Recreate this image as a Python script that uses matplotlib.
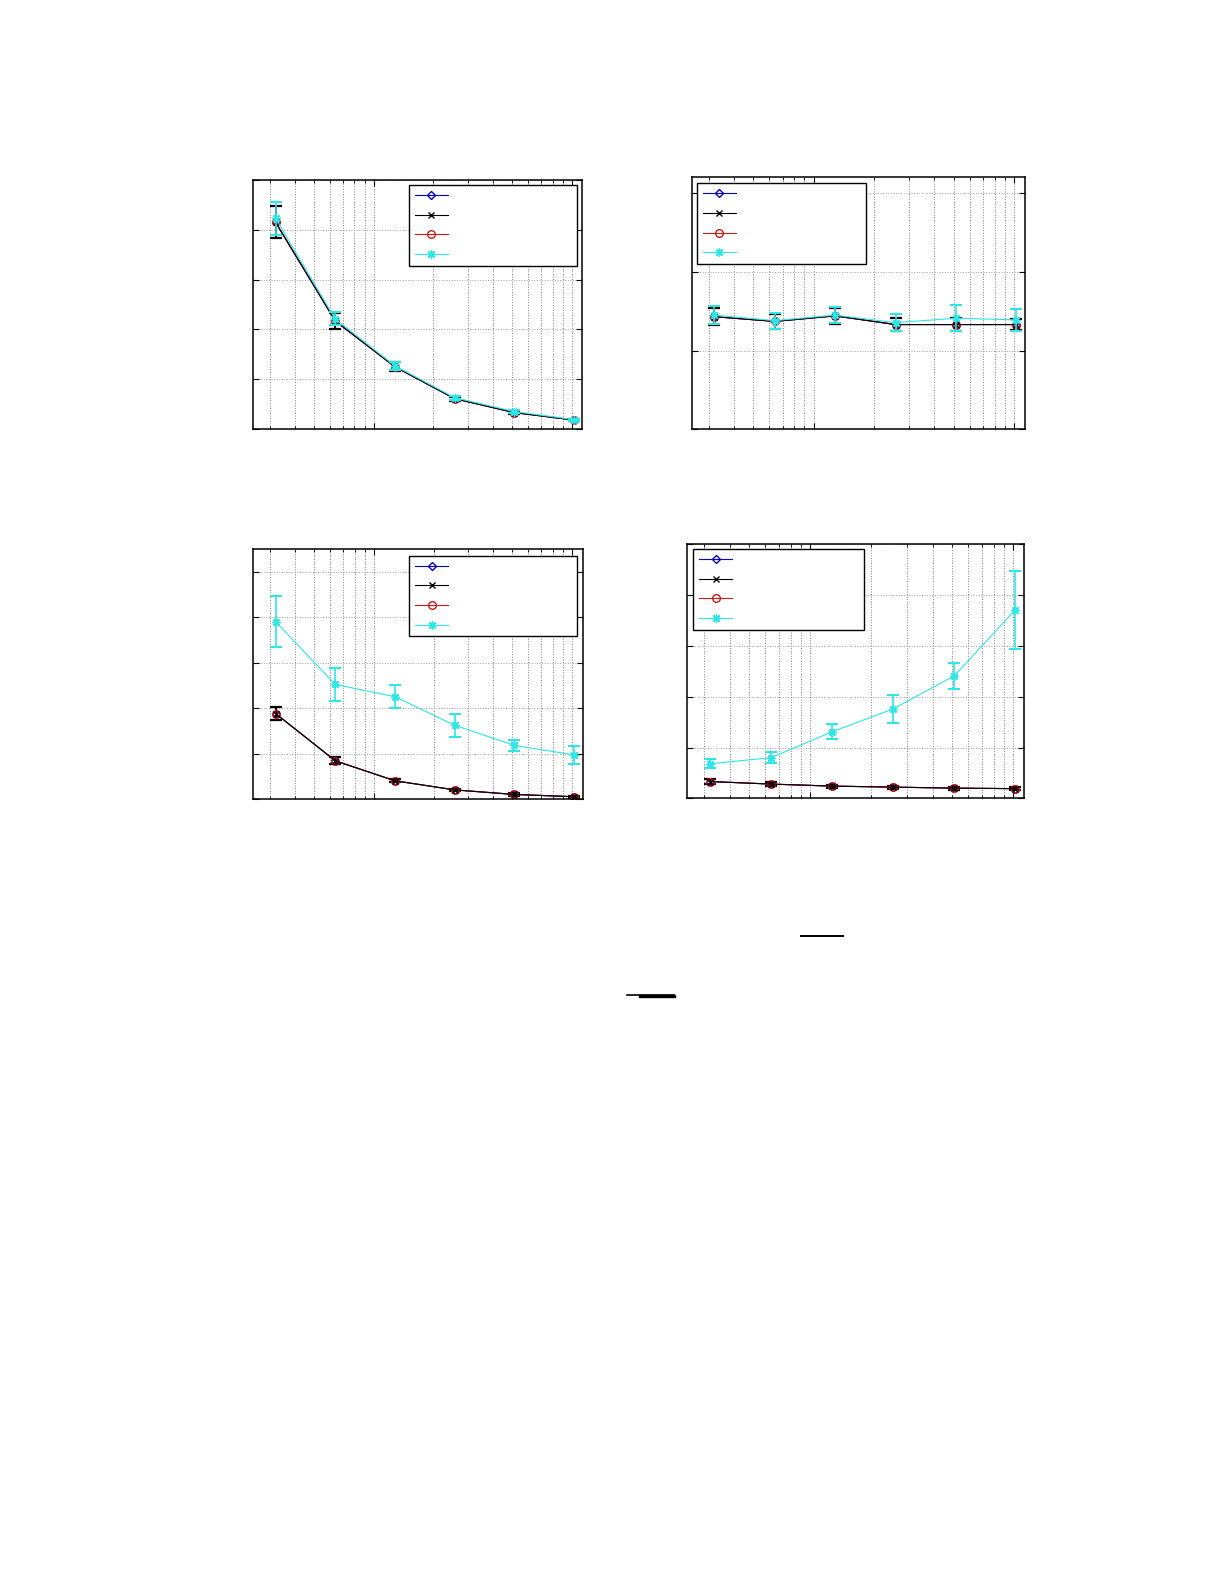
import matplotlib
matplotlib.use("Agg")
import matplotlib.pyplot as plt
from matplotlib.lines import Line2D
from matplotlib.ticker import NullFormatter, LogLocator, MultipleLocator

# x positions (log axis), same for all panels
x_vals = [32, 64, 128, 256, 512, 1024]

# top left
tl_k = [4.15, 2.17, 1.25, 0.61, 0.33, 0.18]
tl_k_err = [0.32, 0.16, 0.09, 0.04, 0.03, 0.02]
tl_b = tl_k
tl_r = tl_k
tl_c = [4.23, 2.21, 1.27, 0.63, 0.35, 0.19]
tl_c_err = [0.33, 0.13, 0.08, 0.04, 0.03, 0.02]

# top right
tr_k = [1.43, 1.37, 1.44, 1.33, 1.33, 1.33]
tr_k_err = [0.11, 0.10, 0.10, 0.085, 0.085, 0.075]
tr_b = tr_k
tr_r = tr_k
tr_c = [1.45, 1.38, 1.45, 1.355, 1.41, 1.39]
tr_c_err = [0.115, 0.10, 0.105, 0.105, 0.165, 0.14]

# bottom left
bl_k = [1.88, 0.84, 0.40, 0.20, 0.10, 0.05]
bl_k_err = [0.15, 0.08, 0.03, 0.03, 0.03, 0.02]
bl_b = bl_k
bl_r = bl_k
bl_c = [3.90, 2.52, 2.25, 1.62, 1.18, 0.97]
bl_c_err = [0.56, 0.36, 0.25, 0.25, 0.12, 0.19]

# bottom right
br_k = [0.33, 0.28, 0.24, 0.22, 0.20, 0.19]
br_k_err = [0.05, 0.04, 0.03, 0.03, 0.03, 0.03]
br_b = br_k
br_r = br_k
br_c = [0.68, 0.80, 1.31, 1.76, 2.41, 3.71]
br_c_err = [0.09, 0.105, 0.15, 0.275, 0.25, 0.77]

W, H = 1225, 1585
fig = plt.figure(figsize=(W / 100, H / 100), dpi=100)


def fig_rect(left, right, top, bottom):
    return [left / W, 1 - bottom / H, (right - left) / W, (bottom - top) / H]


BLUE = "#0000cc"
RED = "#d01818"
CYAN = "#2ee6e6"


def panel(rect, blue, black, red, cyan, k_err, c_err, ylim, ystep, leg):
    ax = fig.add_axes(fig_rect(*rect))
    ax.set_xscale("log")
    kw = dict(lw=0.8, elinewidth=1.2, capsize=4.5, capthick=1.5)
    hb = ax.errorbar(x_vals, blue, yerr=k_err, color=BLUE, marker="D", ms=4.2,
                     mfc="none", mec=BLUE, zorder=2, **kw)
    hk = ax.errorbar(x_vals, black, yerr=k_err, color="k", marker="x", ms=4,
                     zorder=2.1, **kw)
    hr = ax.errorbar(x_vals, red, yerr=k_err, color=RED, marker="o", ms=5.5,
                     mfc="none", mec=RED, zorder=2.05, **kw)
    hc = ax.errorbar(x_vals, cyan, yerr=c_err, color=CYAN, marker=(8, 2, 0),
                     ms=6, zorder=2.3, **kw)

    ax.set_xlim(24.7, 1130)
    ax.set_ylim(*ylim)
    ax.yaxis.set_major_locator(MultipleLocator(ystep))
    ax.xaxis.set_major_locator(LogLocator(base=10))
    ax.xaxis.set_minor_locator(LogLocator(base=10, subs=range(2, 10)))
    ax.xaxis.set_major_formatter(NullFormatter())
    ax.xaxis.set_minor_formatter(NullFormatter())
    ax.yaxis.set_major_formatter(NullFormatter())
    ax.tick_params(which="both", direction="in", top=True, right=True)
    ax.tick_params(which="major", length=4, width=0.8)
    ax.tick_params(which="minor", length=2, width=0.6)
    ax.grid(True, which="both", axis="x", ls=":", color="#808080", lw=0.7)
    ax.grid(True, which="major", axis="y", ls=":", color="#a0a0a0", lw=0.7)
    for s in ax.spines.values():
        s.set_linewidth(1.1)

    # legend without text, box stretched to the reference width
    x0, x1, top = leg
    lg = ax.legend([hb[0], hk[0], hr[0], hc[0]], ["", "", "", ""],
                   loc="upper left", mode="expand",
                   bbox_to_anchor=(x0 / W, 1 - top / H, (x1 - x0) / W, 0),
                   bbox_transform=fig.transFigure, borderaxespad=0,
                   fontsize=8, numpoints=1, handlelength=2.97,
                   handleheight=0.7, labelspacing=0.87, borderpad=0.53,
                   fancybox=False, framealpha=1)
    lg.get_frame().set_edgecolor("k")
    lg.get_frame().set_linewidth(1.0)
    return ax


panel((253.3, 582.3, 180, 429), tl_b, tl_k, tl_r, tl_c, tl_k_err, tl_c_err,
      (0, 5), 1, (409, 577.3, 185))
panel((691.7, 1025, 177.3, 429.3), tr_b, tr_k, tr_r, tr_c, tr_k_err, tr_c_err,
      (0, 3.2), 1, (696.7, 866, 183.3))
panel((253.3, 582.7, 549, 799), bl_b, bl_k, bl_r, bl_c, bl_k_err, bl_c_err,
      (0, 5.5), 1, (409.3, 577.3, 555.7))
panel((687.3, 1024, 544.3, 798.3), br_b, br_k, br_r, br_c, br_k_err, br_c_err,
      (0, 5), 1, (693.3, 864, 549))

# leftover fraction bars of the caption
fig.add_artist(Line2D([801 / W, 842.7 / W], [1 - 935.7 / H] * 2, color="k", lw=1.4))
fig.add_artist(Line2D([626.7 / W, 674 / W], [1 - 994.6 / H] * 2, color="k", lw=1.2))
fig.add_artist(Line2D([640 / W, 674 / W], [1 - 995.6 / H] * 2, color="k", lw=2.4))

fig.savefig("out.png", dpi=100)
